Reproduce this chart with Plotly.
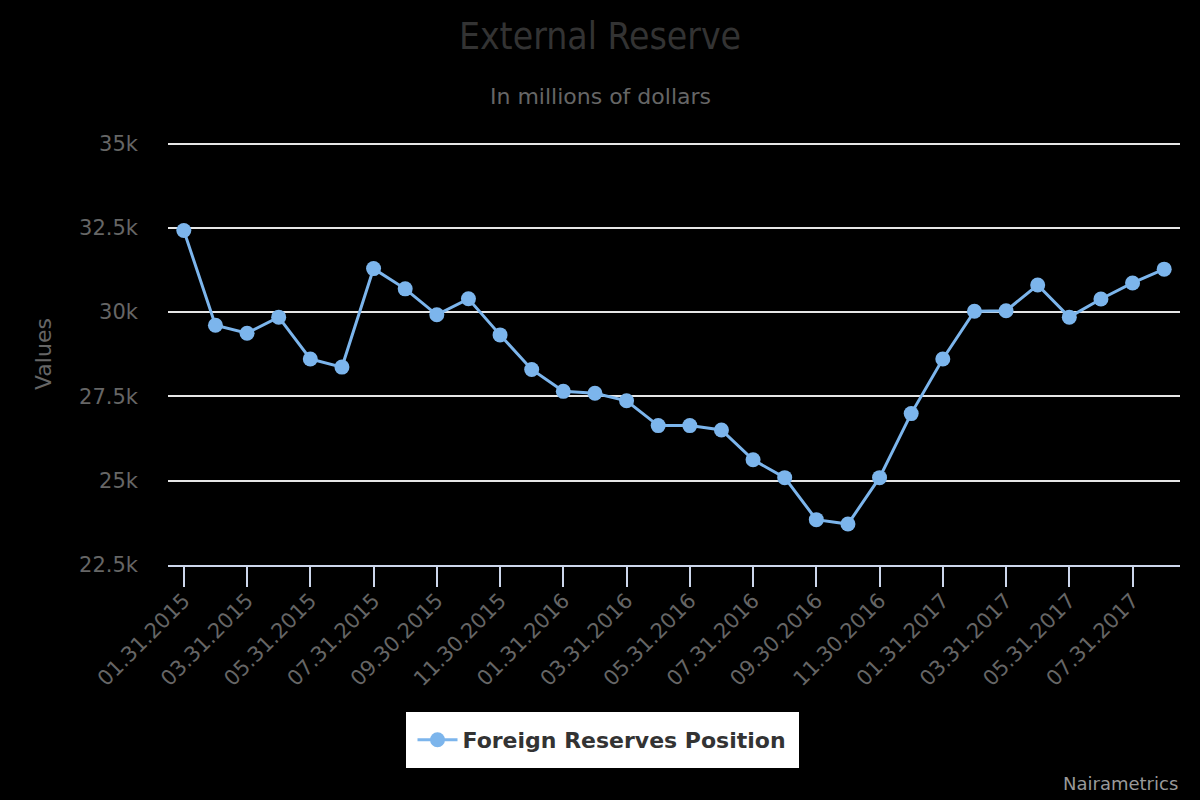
import plotly.graph_objects as go

# month-end dates, Jan 2015 to Aug 2017
DATES = [
    "01.31.2015", "02.28.2015", "03.31.2015", "04.30.2015", "05.31.2015", "06.30.2015",
    "07.31.2015", "08.31.2015", "09.30.2015", "10.31.2015", "11.30.2015", "12.31.2015",
    "01.31.2016", "02.29.2016", "03.31.2016", "04.30.2016", "05.31.2016", "06.30.2016",
    "07.31.2016", "08.31.2016", "09.30.2016", "10.31.2016", "11.30.2016", "12.31.2016",
    "01.31.2017", "02.28.2017", "03.31.2017", "04.30.2017", "05.31.2017", "06.30.2017",
    "07.31.2017", "08.31.2017",
]

# Foreign reserves position, millions of USD
RESERVES = [
    32420, 29610, 29375, 29850, 28610, 28370,
    31290, 30690, 29920, 30395, 29325, 28300,
    27650, 27595, 27370, 26635, 26635, 26505,
    25620, 25090, 23845, 23715, 25090, 26990,
    28610, 30025, 30040, 30805, 29850, 30390,
    30865, 31275,
]

Y_TICKS = [22500, 25000, 27500, 30000, 32500, 35000]
Y_LABELS = ["22.5k", "25k", "27.5k", "30k", "32.5k", "35k"]

X_TICKS = DATES[::2]

FONT = "DejaVu Sans, sans-serif"
TITLE_FONT = "DejaVu Sans Condensed, DejaVu Sans, sans-serif"

# plot area in pixels: top 141, bottom 565
TOP, BOTTOM = 141, 565
H = BOTTOM - TOP


def ypaper(px):
    return (BOTTOM - px) / H


def main():
    fig = go.Figure()

    fig.add_trace(go.Scatter(
        x=DATES,
        y=RESERVES,
        mode="lines+markers",
        name="Foreign Reserves Position",
        line=dict(color="#7cb5ec", width=3),
        marker=dict(color="#7cb5ec", size=15),
    ))

    fig.update_layout(
        width=1200,
        height=800,
        paper_bgcolor="#000000",
        plot_bgcolor="#000000",
        margin=dict(l=168, r=20, t=TOP, b=800 - BOTTOM),
        font=dict(family=FONT, color="#666666"),
        title=dict(
            text="External Reserve",
            x=0.5, xanchor="center",
            y=1 - 36 / 800, yanchor="middle",
            font=dict(size=37, color="#333333", family=TITLE_FONT),
        ),
        showlegend=True,
        legend=dict(
            orientation="h",
            x=(602 - 168) / 1012, xanchor="center",
            y=ypaper(712), yanchor="top",
            bgcolor="#ffffff",
            bordercolor="#ffffff",
            borderwidth=7,
            font=dict(size=22, color="#333333", family=FONT, weight="bold"),
            itemwidth=40,
        ),
    )

    fig.update_xaxes(
        type="category",
        range=[-0.5, len(DATES) - 0.5],
        tickmode="array",
        tickvals=X_TICKS,
        ticktext=X_TICKS,
        tickangle=-45,
        ticks="outside",
        ticklen=20,
        tickwidth=2,
        tickcolor="#ccd6eb",
        ticklabelstandoff=-7,
        showline=True,
        linecolor="#ccd6eb",
        linewidth=2,
        showgrid=False,
        tickfont=dict(size=21, color="#666666"),
    )

    fig.update_yaxes(
        # a little above 35k so the top grid line is still drawn
        range=[22500, 35075],
        tickmode="array",
        tickvals=Y_TICKS,
        ticktext=Y_LABELS,
        showgrid=True,
        gridcolor="#e6e6e6",
        gridwidth=2,
        zeroline=False,
        ticks="",
        ticklabelstandoff=29,
        tickfont=dict(size=21, color="#666666"),
    )

    # subtitle, axis title and credits
    fig.add_annotation(
        text="In millions of dollars", xref="paper", yref="paper",
        x=(600 - 168) / 1012, xanchor="center",
        y=ypaper(96), yanchor="middle", showarrow=False,
        font=dict(size=22, color="#666666"),
    )
    fig.add_annotation(
        text="Values", xref="paper", yref="paper",
        x=(43 - 168) / 1012, xanchor="center", y=ypaper(354), yanchor="middle",
        textangle=-90, showarrow=False,
        font=dict(size=22, color="#666666"),
    )
    fig.add_annotation(
        text="Nairametrics", xref="paper", yref="paper",
        x=1.0, xanchor="right", y=ypaper(784), yanchor="middle",
        showarrow=False, font=dict(size=18, color="#999999"),
    )

    fig.write_html(
        "out.html",
        config={"displayModeBar": False},
        post_script="document.body.style.margin='0';document.body.style.overflow='hidden';",
    )


if __name__ == "__main__":
    main()
